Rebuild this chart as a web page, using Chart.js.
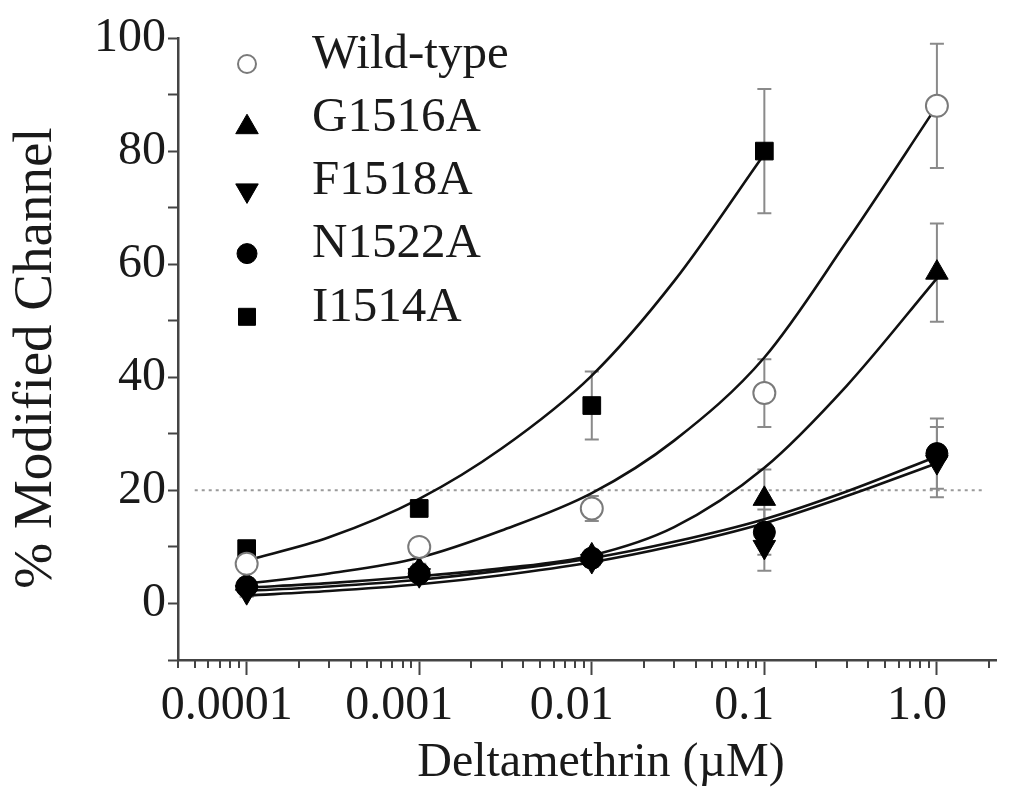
<!DOCTYPE html>
<html><head><meta charset="utf-8">
<script src="https://cdn.jsdelivr.net/npm/chart.js@4/dist/chart.umd.min.js"></script>
<style>html,body{margin:0;padding:0;background:#fff}#wrap{width:1011px;height:790px;position:relative}</style>
</head><body><div id="wrap"><canvas id="c"></canvas></div>
<script>
// ---- data ----
const concentrations = [0.0001, 0.001, 0.01, 0.1, 1.0];
const seriesNames = ['Wild-type', 'G1516A', 'F1518A', 'N1522A', 'I1514A'];
const wildType = [7, 10, 16.8, 37.2, 88];
const g1516a   = [3.5, 6, 8.5, 18.5, 58.5];
const f1518a   = [2, 5, 7.5, 10, 25];
const n1522a   = [3, 5.3, 8, 12.6, 26.5];
const i1514a   = [9.7, 16.8, 35, 80];
const wildTypeErr = [1, 1.5, 2.2, 6, 11];
const g1516aErr   = [0.8, 1, 1, 5.2, 8.7];
const f1518aErr   = [0.8, 1, 1, 4.2, 6.2];
const n1522aErr   = [0.8, 1, 1, 4, 6.2];
const i1514aErr   = [1, 1, 6, 11];
// fitted curves
const fitX = [0.0001, 0.0003, 0.001, 0.003, 0.01, 0.03, 0.1, 0.3, 1.0];
const wildTypeFit = [3.5, 5.3, 8.1, 12.9, 19.5, 28.8, 43.5, 64, 88];
const g1516aFit   = [2.8, 3.6, 4.8, 6.2, 8.5, 13.5, 24, 38.5, 57.5];
const f1518aFit   = [1.4, 2.2, 3.4, 5.0, 7.3, 10.2, 14.2, 19.0, 24.8];
const n1522aFit   = [2.2, 3.0, 4.2, 5.8, 8.0, 10.9, 14.9, 19.8, 26.0];
const i1514aFit   = [7.6, 11.7, 18.5, 27.4, 40.3, 57, 79.5];
const xTickValues = [0.0001, 0.001, 0.01, 0.1, 1];
const xTickLabels = ['0.0001', '0.001', '0.01', '0.1', '1.0'];
const yTickValues = [0, 20, 40, 60, 80, 100];
const xTitle = 'Deltamethrin (µM)';
const yTitle = '% Modified Channel';
const thresholdLevel = 20;
const thresholdFrom = 0.00005, thresholdTo = 1.9;

const FONT = '"Liberation Serif", "Times New Roman", serif';
const pts = (xs, ys) => ys.map((y, i) => ({x: xs[i], y}));

const markerStyles = [
  {pointStyle: 'circle', radius: 11, rotation: 0, bg: '#ffffff', border: '#7a7a7a', bw: 2, lr: 9},
  {pointStyle: 'triangle', radius: 13, rotation: 0, bg: '#000', border: '#000', bw: 1, lr: 13},
  {pointStyle: 'triangle', radius: 13, rotation: 180, bg: '#000', border: '#000', bw: 1, lr: 13},
  {pointStyle: 'circle', radius: 11, rotation: 0, bg: '#000', border: '#000', bw: 1, lr: 10},
  {pointStyle: 'rect', radius: 12.5, rotation: 0, bg: '#000', border: '#000', bw: 1, lr: 12}
];
const values = [wildType, g1516a, f1518a, n1522a, i1514a];
const errs = [wildTypeErr, g1516aErr, f1518aErr, n1522aErr, i1514aErr];
const fits = [wildTypeFit, g1516aFit, f1518aFit, n1522aFit, i1514aFit];

const datasets = [];
seriesNames.forEach((name, i) => {
  const s = markerStyles[i];
  datasets.push({
    label: name, data: pts(concentrations, values[i]), errors: errs[i], isMarker: true,
    showLine: false, pointStyle: s.pointStyle, pointRadius: s.radius, pointRotation: s.rotation,
    pointBackgroundColor: s.bg, pointBorderColor: s.border, pointBorderWidth: s.bw,
    pointHoverRadius: s.radius, order: 0
  });
});
seriesNames.forEach((name, i) => {
  datasets.push({
    label: name + ' fit', data: pts(fitX, fits[i]), showLine: true, pointRadius: 0,
    borderColor: '#111', borderWidth: 2.6, cubicInterpolationMode: 'monotone', fill: false, order: 1
  });
});

function drawMarker(ctx, style, r, rot, x, y) {
  ctx.beginPath();
  if (style === 'circle') {
    ctx.arc(x, y, r, 0, Math.PI * 2);
  } else if (style === 'rect') {
    const h = r * Math.SQRT1_2;
    ctx.rect(x - h, y - h, 2 * h, 2 * h);
  } else {
    let a = rot * Math.PI / 180;
    for (let k = 0; k < 3; k++) {
      const px = x + Math.sin(a) * r, py = y - Math.cos(a) * r;
      k ? ctx.lineTo(px, py) : ctx.moveTo(px, py);
      a += 2 * Math.PI / 3;
    }
    ctx.closePath();
  }
  ctx.fill();
  ctx.stroke();
}

const overlayPlugin = {
  id: 'overlay',
  beforeDatasetsDraw(chart) {
    const {ctx, scales: {x, y}} = chart;
    ctx.save();
    // threshold dotted line
    ctx.strokeStyle = '#9a9a9a'; ctx.lineWidth = 2; ctx.setLineDash([3, 4]);
    ctx.beginPath();
    ctx.moveTo(x.getPixelForValue(thresholdFrom), y.getPixelForValue(thresholdLevel));
    ctx.lineTo(x.getPixelForValue(thresholdTo), y.getPixelForValue(thresholdLevel));
    ctx.stroke();
    ctx.setLineDash([]);
    // error bars
    ctx.strokeStyle = '#8a8a8a'; ctx.lineWidth = 2;
    chart.data.datasets.forEach((ds, di) => {
      if (!ds.isMarker) return;
      const meta = chart.getDatasetMeta(di);
      ds.data.forEach((p, j) => {
        const e = ds.errors[j]; if (!e) return;
        const px = meta.data[j].x;
        const yt = y.getPixelForValue(p.y + e), yb = y.getPixelForValue(p.y - e);
        ctx.beginPath();
        ctx.moveTo(px, yt); ctx.lineTo(px, yb);
        ctx.moveTo(px - 7, yt); ctx.lineTo(px + 7, yt);
        ctx.moveTo(px - 7, yb); ctx.lineTo(px + 7, yb);
        ctx.stroke();
      });
    });
    ctx.restore();
  },
  afterDraw(chart) {
    const {ctx, scales: {x}, chartArea} = chart;
    ctx.save();
    // minor log ticks
    ctx.strokeStyle = '#444'; ctx.lineWidth = 2;
    for (let e = -6; e <= 1; e++) {
      for (let m = 2; m <= 9; m++) {
        const v = m * Math.pow(10, e);
        if (v < x.min || v > x.max) continue;
        const px = Math.round(x.getPixelForValue(v));
        ctx.beginPath(); ctx.moveTo(px, chartArea.bottom); ctx.lineTo(px, chartArea.bottom + 8); ctx.stroke();
      }
    }
    // axis titles
    ctx.fillStyle = '#1a1a1a';
    ctx.font = '48px ' + FONT; ctx.textAlign = 'center'; ctx.textBaseline = 'alphabetic';
    ctx.fillText(xTitle, 601, 776);
    ctx.save();
    ctx.translate(37, 358); ctx.rotate(-Math.PI / 2);
    ctx.font = '55px ' + FONT; ctx.textBaseline = 'middle';
    ctx.fillText(yTitle, 0, 0);
    ctx.restore();
    // legend
    const lx = 247, tx = 312, ly0 = 55, dy = 63.2;
    ctx.font = '49px ' + FONT; ctx.textBaseline = 'middle'; ctx.textAlign = 'left';
    seriesNames.forEach((name, i) => {
      const s = markerStyles[i];
      const yy = ly0 + i * dy;
      ctx.fillStyle = s.bg; ctx.strokeStyle = s.border; ctx.lineWidth = s.bw;
      drawMarker(ctx, s.pointStyle, s.lr, s.rotation, lx, yy + 9);
      ctx.fillStyle = '#1a1a1a';
      ctx.fillText(name, tx, yy);
    });
    ctx.restore();
  }
};

new Chart(document.getElementById('c'), {
  type: 'scatter',
  data: {datasets},
  plugins: [overlayPlugin],
  options: {
    responsive: true, maintainAspectRatio: false, animation: false,
    layout: {padding: {left: 0, right: 15, top: 38, bottom: 0}},
    plugins: {legend: {display: false}, tooltip: {enabled: false}},
    scales: {
      x: {
        type: 'logarithmic', min: 0.00004, max: 2.2,
        afterBuildTicks: s => { s.ticks = xTickValues.map(v => ({value: v, major: true})); },
        afterFit: s => { s.height = 130; },
        grid: {drawOnChartArea: false, drawTicks: true, tickLength: 15, tickColor: '#444', tickWidth: 2},
        border: {display: true, color: '#444', width: 2.5},
        ticks: {
          autoSkip: false, maxRotation: 0, padding: 3, labelOffset: -20, color: '#1a1a1a',
          font: {family: FONT, size: 48},
          callback: v => { const k = xTickValues.findIndex(t => Math.abs(t - v) / t < 1e-6); return k >= 0 ? xTickLabels[k] : ''; }
        },
        title: {display: false, text: xTitle}
      },
      y: {
        type: 'linear', min: -10, max: 100,
        afterBuildTicks: s => { const t = []; for (let v = -10; v <= 100; v += 10) t.push({value: v}); s.ticks = t; },
        afterFit: s => { s.width = 178; },
        grid: {drawOnChartArea: false, drawTicks: true, tickLength: 10, tickColor: '#444', tickWidth: 2},
        border: {display: true, color: '#444', width: 2.5},
        ticks: {
          autoSkip: false, padding: 2, color: '#1a1a1a',
          font: {family: FONT, size: 48},
          callback: v => yTickValues.includes(v) ? String(v) : ''
        },
        title: {display: false, text: yTitle}
      }
    }
  }
});
</script></body></html>
